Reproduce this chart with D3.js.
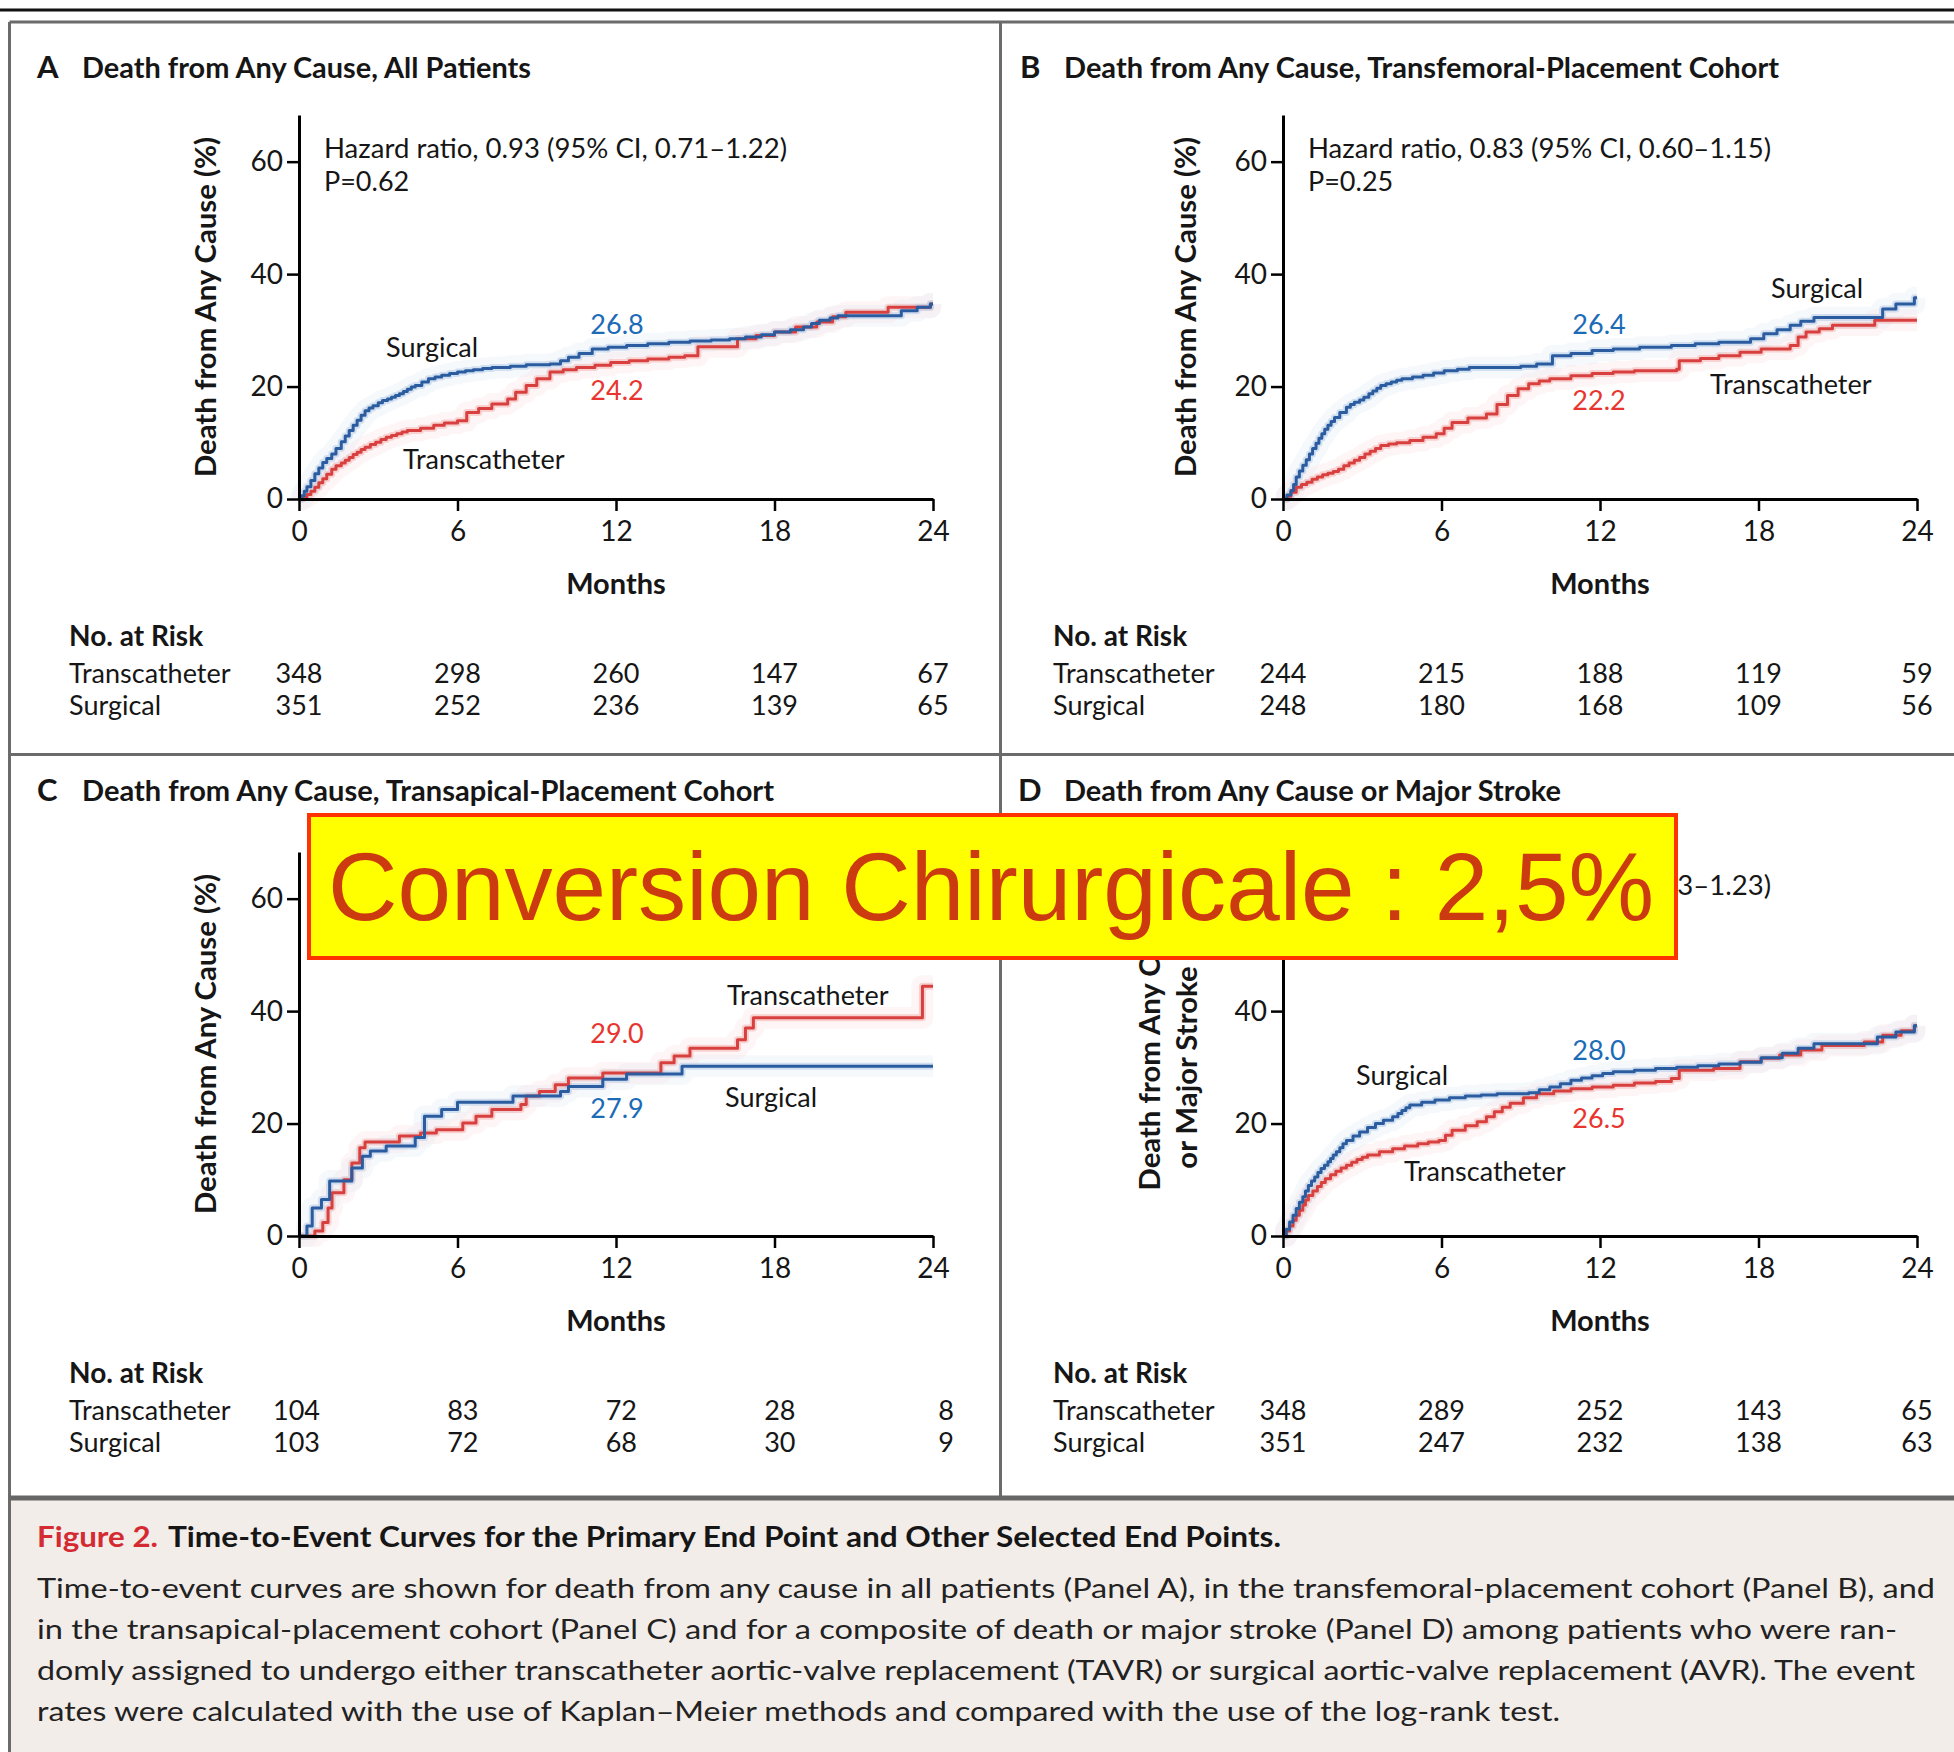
<!DOCTYPE html>
<html><head><meta charset="utf-8">
<script src="https://cdn.jsdelivr.net/npm/d3@7"></script>
<style>
body{margin:0;background:#fff}
svg{display:block}
</style>
</head><body>
<svg id="chart" width="1954" height="1752"></svg>
<script>
// ---------------- DATA ----------------
const monthTicks = [0, 6, 12, 18, 24];
const pctTicks = [0, 20, 40, 60];
const panelLetters = ["A", "B", "C", "D"];
const panelTitles = [
  "Death from Any Cause, All Patients",
  "Death from Any Cause, Transfemoral-Placement Cohort",
  "Death from Any Cause, Transapical-Placement Cohort",
  "Death from Any Cause or Major Stroke"
];
const hazardTexts = [
  "Hazard ratio, 0.93 (95% CI, 0.71\u20131.22)",
  "Hazard ratio, 0.83 (95% CI, 0.60\u20131.15)",
  "Hazard ratio, 1.22 (95% CI, 0.75\u20131.98)",
  "Hazard ratio, 0.95 (95% CI, 0.73\u20131.23)"
];
const pValueTexts = ["P=0.62", "P=0.25", "P=0.43", "P=0.68"];
const yTitleA = ["Death from Any Cause (%)"];
const yTitleB = ["Death from Any Cause (%)"];
const yTitleC = ["Death from Any Cause (%)"];
const yTitleD = ["Death from Any Cause", "or Major Stroke (%)"];
const xTitle = "Months";
const seriesNames = ["Transcatheter", "Surgical"];
const surgicalEndLabels = ["26.8", "26.4", "27.9", "28.0"];
const transEndLabels = ["24.2", "22.2", "29.0", "26.5"];

// [month, percent] step points
const panelA_surgical = [[0,0],[0.1,0.6],[0.2,1.4],[0.3,2.2],[0.45,3.3],[0.6,4.5],[0.75,5.5],[0.9,6.5],[1.05,7.2],[1.24,8],[1.4,9],[1.6,10.2],[1.75,11.2],[1.9,12.2],[2.05,13.1],[2.2,14],[2.35,14.9],[2.5,15.7],[2.65,16.2],[2.8,16.6],[3.0,17.1],[3.16,17.5],[3.35,17.8],[3.5,18.1],[3.65,18.4],[3.8,18.7],[3.95,19.1],[4.1,19.5],[4.25,19.9],[4.4,20.2],[4.65,20.8],[4.9,21.4],[5.15,21.7],[5.4,22],[5.7,22.3],[6.0,22.6],[6.3,22.8],[6.6,23],[6.95,23.2],[7.3,23.4],[8.0,23.6],[8.6,23.9],[9.5,24.0],[9.9,24.6],[10.2,25.2],[10.6,25.9],[11.1,26.7],[11.7,27],[12.4,27.3],[13.2,27.6],[14.0,27.9],[14.8,28.1],[15.6,28.3],[16.3,28.5],[16.9,28.8],[17.5,29.2],[18.0,29.7],[18.6,30.1],[19.1,30.6],[19.4,31.2],[19.7,31.8],[20.1,32.2],[20.4,32.6],[22.8,33.5],[23.4,34.1],[23.9,34.7],[24,34.7]];
const panelA_trans = [[0,0],[0.15,0.3],[0.3,0.8],[0.45,1.4],[0.6,2.1],[0.75,2.9],[0.9,3.6],[1.05,4.4],[1.24,5.3],[1.4,5.9],[1.6,6.4],[1.75,6.9],[1.9,7.4],[2.05,7.9],[2.2,8.3],[2.35,8.8],[2.5,9.2],[2.7,9.7],[2.9,10.1],[3.1,10.6],[3.3,11],[3.5,11.3],[3.7,11.6],[3.9,11.9],[4.1,12.2],[4.6,12.6],[5.1,13.1],[5.5,13.5],[6.0,13.9],[6.35,15.4],[6.8,16.1],[7.3,16.9],[7.9,17.8],[8.2,19],[8.6,20.2],[9.0,21.4],[9.5,22.6],[10.0,23],[10.5,23.4],[11.2,23.8],[11.8,24.3],[12.5,24.6],[13.2,24.9],[14.0,25.2],[14.6,25.5],[15.1,27.1],[16.6,28.5],[17.3,29.1],[18.0,29.7],[18.8,30.6],[19.6,31.5],[20.2,32.4],[20.7,33.2],[22.3,34.1],[23.9,34.7],[24,34.7]];
const panelB_surgical = [[0,0],[0.15,0.7],[0.3,1.5],[0.4,2.6],[0.5,3.9],[0.62,5],[0.75,6],[0.88,7],[1.0,8],[1.12,9],[1.25,9.9],[1.36,10.8],[1.47,11.6],[1.58,12.4],[1.7,13.1],[1.82,13.8],[1.95,14.5],[2.15,15.4],[2.4,16.3],[2.55,16.8],[2.7,17.2],[2.9,17.6],[3.06,18.1],[3.25,18.7],[3.4,19.2],[3.55,19.7],[3.7,20.2],[3.9,20.5],[4.1,20.8],[4.3,21.1],[4.5,21.4],[4.9,21.7],[5.3,22],[5.7,22.4],[6.1,22.8],[6.6,23.1],[7.05,23.4],[9.0,23.6],[9.6,24],[10.2,25.5],[10.9,25.9],[11.7,26.4],[12.5,26.7],[13.5,27],[14.7,27.3],[15.6,27.6],[16.5,27.9],[17.7,28.5],[18.2,29.4],[18.7,30.1],[19.2,30.9],[19.6,31.6],[20.1,32.3],[22.7,33.8],[23.2,34.7],[23.9,35.8],[24,35.8]];
const panelB_trans = [[0,0],[0.15,0.5],[0.3,1.2],[0.5,2.1],[0.7,2.6],[0.9,3],[1.1,3.5],[1.3,3.9],[1.5,4.3],[1.7,4.6],[1.9,4.9],[2.1,5.3],[2.3,5.9],[2.5,6.4],[2.7,6.9],[2.9,7.4],[3.1,8],[3.3,8.5],[3.5,9],[3.7,9.5],[4.0,9.8],[4.3,10],[4.8,10.4],[5.3,11],[5.8,11.6],[6.1,12.6],[6.4,13.6],[7.0,14.4],[7.7,15.1],[8.1,16.8],[8.5,18.4],[8.9,19.6],[9.3,20.5],[9.7,21],[10.1,21.4],[10.9,21.9],[11.7,22.3],[12.5,22.6],[13.3,22.8],[14.9,23.1],[15.0,24.6],[15.8,25],[16.5,25.5],[17.3,26.1],[18.1,26.7],[19.2,27.3],[19.5,28.8],[19.8,29.7],[20.3,30.3],[20.8,30.9],[22.4,31.8],[24,31.8]];
const panelC_surgical = [[0,0],[0.3,1.8],[0.5,5],[0.85,6.5],[1.16,9.8],[2.0,12.1],[2.4,14.2],[2.7,15.1],[3.3,16],[4.4,17.5],[4.75,21.3],[5.4,22.5],[6.0,23.8],[8.1,24.9],[9.9,25.7],[10.2,26.6],[11.5,27.9],[12.4,28.8],[14.5,30.2],[24,30.2]];
const panelC_trans = [[0,0],[0.6,0.9],[0.9,2.4],[1.1,5],[1.25,7.7],[1.7,10],[2.0,13],[2.3,15.7],[2.5,16.7],[3.8,17.8],[4.6,18.3],[5.2,18.9],[6.2,20.1],[6.7,21.3],[7.3,22.5],[8.4,23.4],[8.6,24.9],[9.1,25.7],[9.7,26.9],[10.2,28.1],[11.5,29],[13.7,30.8],[14.2,32],[14.8,33.4],[16.6,34.9],[16.9,37],[17.2,38.8],[23.6,44.4],[24,44.4]];
const panelD_surgical = [[0,0],[0.12,1.2],[0.25,2.5],[0.38,3.7],[0.5,4.9],[0.62,6],[0.75,7],[0.85,8],[0.96,9],[1.08,9.8],[1.2,10.5],[1.32,11.3],[1.44,12],[1.57,12.6],[1.7,13.2],[1.8,13.8],[1.9,14.4],[2.02,15],[2.15,15.7],[2.27,16.4],[2.4,17],[2.65,17.8],[2.9,18.5],[3.2,19.3],[3.5,20],[3.8,20.6],[4.15,21.2],[4.35,21.8],[4.5,22.3],[4.65,22.8],[4.8,23.3],[5.25,23.8],[5.75,24.2],[6.3,24.6],[6.9,24.9],[7.5,25.1],[8.1,25.3],[9.3,25.5],[9.7,26],[10.1,26.5],[10.5,27.1],[10.9,27.7],[11.3,28.1],[11.7,28.5],[12.1,28.9],[12.5,29.2],[13.3,29.5],[14.1,29.8],[14.9,30],[15.7,30.3],[16.5,30.6],[17.3,30.9],[18.1,31.7],[18.9,32.5],[19.5,33.4],[20.1,34.2],[22.5,35.4],[23.2,36.3],[23.9,37.4],[24,37.4]];
const panelD_trans = [[0,0],[0.12,0.9],[0.25,1.8],[0.38,2.8],[0.5,3.7],[0.62,4.6],[0.75,5.5],[0.85,6.4],[0.96,7.2],[1.13,8],[1.3,8.8],[1.45,9.5],[1.6,10.2],[1.8,10.9],[2.0,11.5],[2.2,12.1],[2.4,12.6],[2.6,13.1],[2.8,13.6],[3.0,14],[3.2,14.4],[3.65,15],[4.15,15.5],[4.6,16],[5.1,16.4],[5.5,16.7],[5.9,17],[6.15,17.9],[6.4,18.8],[6.9,19.6],[7.35,20.3],[7.7,21.2],[8.0,22.1],[8.3,22.9],[8.6,23.6],[9.1,24.6],[9.6,25.3],[10.25,25.8],[10.9,26.2],[11.7,26.5],[12.5,26.8],[13.3,27.2],[14.1,27.5],[14.7,28],[15.0,29.5],[16.3,29.8],[17.3,31],[18.1,31.6],[18.8,32.2],[19.6,33.1],[20.4,33.9],[22.0,34.5],[22.7,35.7],[23.4,36.5],[23.9,37.4],[24,37.4]];

const riskA_trans = [348, 298, 260, 147, 67];
const riskA_surg  = [351, 252, 236, 139, 65];
const riskB_trans = [244, 215, 188, 119, 59];
const riskB_surg  = [248, 180, 168, 109, 56];
const riskC_trans = [104, 83, 72, 28, 8];
const riskC_surg  = [103, 72, 68, 30, 9];
const riskD_trans = [348, 289, 252, 143, 65];
const riskD_surg  = [351, 247, 232, 138, 63];

const overlayText = "Conversion Chirurgicale : 2,5%";
const captionLead = "Figure 2.";
const captionTitle = "Time-to-Event Curves for the Primary End Point and Other Selected End Points.";
const captionLines = [
  "Time-to-event curves are shown for death from any cause in all patients (Panel A), in the transfemoral-placement cohort (Panel B), and",
  "in the transapical-placement cohort (Panel C) and for a composite of death or major stroke (Panel D) among patients who were ran-",
  "domly assigned to undergo either transcatheter aortic-valve replacement (TAVR) or surgical aortic-valve replacement (AVR). The event",
  "rates were calculated with the use of Kaplan\u2013Meier methods and compared with the use of the log-rank test."
];

// ---------------- STYLE / LAYOUT ----------------
const FONT = "Lato, 'Open Sans', 'Noto Sans', sans-serif";
const BLUE = "#2b5c9f", RED = "#d8403f";
const BLUE_TXT = "#1b6bb7", RED_TXT = "#e8352f";
const INK = "#161616";

const svg = d3.select("#chart").style("font-family", FONT);
svg.append("rect").attr("width", 1954).attr("height", 1752).attr("fill", "#fff");
svg.append("rect").attr("x", 10).attr("y", 1498).attr("width", 1944).attr("height", 254).attr("fill", "#f3ede9");

function rule(x1, y1, x2, y2, c, w) {
  svg.append("line").attr("x1", x1).attr("y1", y1).attr("x2", x2).attr("y2", y2)
    .attr("stroke", c).attr("stroke-width", w);
}
rule(0, 10, 1954, 10, "#111", 3);
rule(9.5, 22, 1954, 22, "#6b6b6b", 3);
rule(9.5, 22, 9.5, 1752, "#6b6b6b", 3);
rule(1000.5, 22, 1000.5, 1498, "#6b6b6b", 3);
rule(9.5, 754.5, 1954, 754.5, "#6b6b6b", 3);
rule(9.5, 1498, 1954, 1498, "#666", 5);

const layouts = [
  {x0: 299, yb: 499, letterX: 37, titleX: 82, titleY: 77.5, titleW: 449, yTitle: yTitleA, yTitleDx: [-93], riskAlign: "middle",
   surgLbl: [386, 357], transLbl: [403, 469], surgVal: [617, 333.5], transVal: [617, 400]},
  {x0: 1283, yb: 499, letterX: 1020, titleX: 1064, titleY: 77.5, titleW: 715, yTitle: yTitleB, yTitleDx: [-97], riskAlign: "middle",
   surgLbl: [1771, 298], transLbl: [1710, 394], surgVal: [1599, 333.5], transVal: [1599, 410]},
  {x0: 299, yb: 1236, letterX: 37, titleX: 82, titleY: 800.5, titleW: 692, yTitle: yTitleC, yTitleDx: [-93], riskAlign: "end",
   surgLbl: [725, 1107], transLbl: [727, 1005], surgVal: [617, 1118], transVal: [617, 1043]},
  {x0: 1283, yb: 1236, letterX: 1018, titleX: 1064, titleY: 800.5, titleW: 497, yTitle: yTitleD, yTitleDx: [-133, -96], riskAlign: "middle",
   surgLbl: [1356, 1085], transLbl: [1404, 1181], surgVal: [1599, 1060], transVal: [1599, 1128]}
];
const curves = [
  [panelA_trans, panelA_surgical], [panelB_trans, panelB_surgical],
  [panelC_trans, panelC_surgical], [panelD_trans, panelD_surgical]
];
const risks = [
  [riskA_trans, riskA_surg], [riskB_trans, riskB_surg],
  [riskC_trans, riskC_surg], [riskD_trans, riskD_surg]
];

// reference width of the single-line y title
const Y_TITLE_W = 340;
let yTitleScale = 1;
{
  const probe = svg.append("text").attr("font-size", 29).attr("font-weight", 700).text(yTitleA[0]);
  yTitleScale = Y_TITLE_W / probe.node().getComputedTextLength();
  probe.remove();
}

layouts.forEach((L, i) => {
  const g = svg.append("g");
  const x = d3.scaleLinear().domain([0, 24]).range([L.x0, L.x0 + 634]);
  const y = d3.scaleLinear().domain([0, 68.3]).range([L.yb, L.yb - 384]);

  // title
  g.append("text").attr("x", L.letterX).attr("y", L.titleY).attr("font-size", 31).attr("font-weight", 700)
    .attr("fill", INK).text(panelLetters[i]);
  g.append("text").attr("x", L.titleX).attr("y", L.titleY).attr("font-size", 28).attr("font-weight", 700)
    .attr("fill", INK).attr("textLength", L.titleW).attr("lengthAdjust", "spacingAndGlyphs").text(panelTitles[i]);

  // curves
  const line = d3.line().x(d => x(d[0])).y(d => y(d[1])).curve(d3.curveStepAfter);
  const [tr, su] = curves[i];
  [[tr, "#f4b9b8"], [su, "#b9cfe9"]].forEach(([data, glow]) => {
    g.append("path").attr("d", line(data)).attr("fill", "none").attr("stroke", glow)
      .attr("stroke-width", 22).attr("stroke-opacity", 0.12).attr("stroke-linejoin", "round");
    g.append("path").attr("d", line(data)).attr("fill", "none").attr("stroke", glow)
      .attr("stroke-width", 7).attr("stroke-opacity", 0.6).attr("stroke-linejoin", "round");
  });
  [[tr, RED], [su, BLUE]].forEach(([data, col]) => {
    g.append("path").attr("d", line(data)).attr("fill", "none").attr("stroke", col)
      .attr("stroke-width", 3).attr("stroke-linejoin", "round");
  });

  // axes
  const ya = g.append("g").attr("transform", `translate(${L.x0},0)`)
    .call(d3.axisLeft(y).tickValues(pctTicks).tickSize(12).tickSizeOuter(0).tickPadding(4));
  const xa = g.append("g").attr("transform", `translate(0,${L.yb})`)
    .call(d3.axisBottom(x).tickValues(monthTicks).tickSize(12).tickSizeOuter(0).tickPadding(10));
  [ya, xa].forEach(a => {
    a.attr("font-family", FONT).attr("font-size", 28);
    a.select(".domain").attr("stroke", "#000").attr("stroke-width", 3);
    a.selectAll(".tick line").attr("stroke", "#000").attr("stroke-width", 2.5);
    a.selectAll(".tick text").attr("fill", INK);
  });

  // y title
  const yc = L.yb - 192;
  L.yTitle.forEach((t, k) => {
    const tt = g.append("text").attr("transform", `translate(${L.x0 + L.yTitleDx[k]},${yc}) rotate(-90)`)
      .attr("text-anchor", "middle").attr("dy", "0.36em").attr("font-size", 29).attr("font-weight", 700)
      .attr("fill", INK).text(t);
    const w = tt.node().getComputedTextLength() * yTitleScale;
    tt.attr("textLength", w).attr("lengthAdjust", "spacingAndGlyphs");
  });
  // x title
  g.append("text").attr("x", x(12)).attr("y", L.yb + 95).attr("text-anchor", "middle")
    .attr("font-size", 29).attr("font-weight", 700).attr("fill", INK).text(xTitle);

  // hazard
  g.append("text").attr("x", L.x0 + 25).attr("y", L.yb - 341).attr("font-size", 27).attr("fill", INK)
    .attr("textLength", 463).attr("lengthAdjust", "spacingAndGlyphs").text(hazardTexts[i]);
  g.append("text").attr("x", L.x0 + 25).attr("y", L.yb - 308).attr("font-size", 27).attr("fill", INK)
    .text(pValueTexts[i]);

  // curve labels
  g.append("text").attr("x", L.surgLbl[0]).attr("y", L.surgLbl[1]).attr("font-size", 27).attr("fill", INK).text(seriesNames[1]);
  g.append("text").attr("x", L.transLbl[0]).attr("y", L.transLbl[1]).attr("font-size", 27).attr("fill", INK).text(seriesNames[0]);
  g.append("text").attr("x", L.surgVal[0]).attr("y", L.surgVal[1]).attr("text-anchor", "middle").attr("font-size", 27)
    .attr("fill", BLUE_TXT).text(surgicalEndLabels[i]);
  g.append("text").attr("x", L.transVal[0]).attr("y", L.transVal[1]).attr("text-anchor", "middle").attr("font-size", 27)
    .attr("fill", RED_TXT).text(transEndLabels[i]);

  // risk table
  const rx = L.x0 - 230;
  g.append("text").attr("x", rx).attr("y", L.yb + 147).attr("font-size", 28).attr("font-weight", 700).attr("fill", INK).text("No. at Risk");
  risks[i].forEach((row, r) => {
    const by = L.yb + (r === 0 ? 183.5 : 216);
    g.append("text").attr("x", rx).attr("y", by).attr("font-size", 27).attr("fill", INK).text(seriesNames[r]);
    g.selectAll(null).data(row).join("text")
      .attr("x", (d, k) => L.riskAlign === "end" ? x(monthTicks[k]) + 21 : x(monthTicks[k]))
      .attr("y", by).attr("text-anchor", L.riskAlign).attr("font-size", 27).attr("fill", INK)
      .text(d => d);
  });
});

// overlay banner
svg.append("rect").attr("x", 309).attr("y", 815).attr("width", 1367).attr("height", 143)
  .attr("fill", "#ffff00").attr("stroke", "#ff3300").attr("stroke-width", 4);
svg.append("text").attr("x", 328).attr("y", 920)
  .style("font-family", "'Liberation Sans', Arial, Helvetica, sans-serif")
  .attr("font-size", 97).attr("fill", "#cc3a10").attr("textLength", 1326).attr("lengthAdjust", "spacingAndGlyphs")
  .text(overlayText);

// caption
svg.append("text").attr("x", 37).attr("y", 1547).attr("font-size", 28).attr("font-weight", 700)
  .attr("fill", "#d42a32").attr("textLength", 121).attr("lengthAdjust", "spacingAndGlyphs").text(captionLead);
svg.append("text").attr("x", 168).attr("y", 1547).attr("font-size", 28).attr("font-weight", 700)
  .attr("fill", INK).attr("textLength", 1113).attr("lengthAdjust", "spacingAndGlyphs").text(captionTitle);
const capW = [1898, 1860, 1878, 1523];
captionLines.forEach((t, k) => {
  svg.append("text").attr("x", 37).attr("y", 1598 + 41 * k).attr("font-size", 27).attr("fill", "#222")
    .attr("textLength", capW[k]).attr("lengthAdjust", "spacingAndGlyphs").text(t);
});
</script>
</body></html>
